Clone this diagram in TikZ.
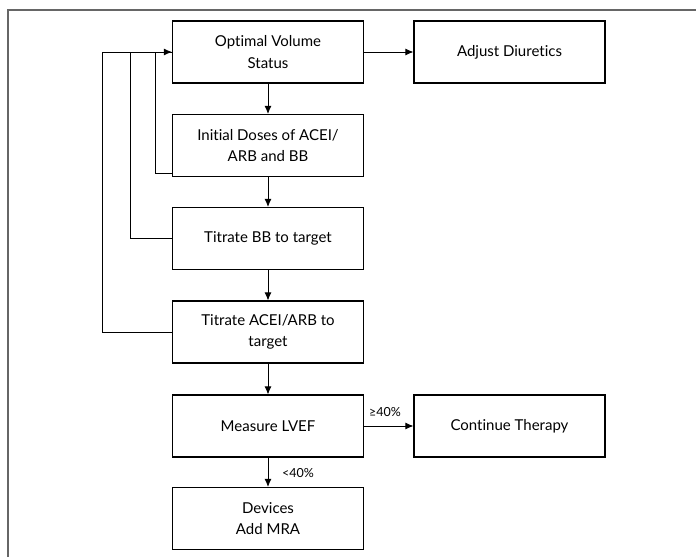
\documentclass[tikz,border=0pt]{standalone}
\usepackage{fontspec}
\setmainfont{Lato}[Ligatures={NoCommon}]
\usetikzlibrary{arrows.meta}
\begin{document}
\begin{tikzpicture}[x=1pt,y=-1pt,
  box/.style={draw, line width=1.1pt, minimum width=191pt, minimum height=62pt, align=center,
    font=\fontsize{15}{21.5}\selectfont, inner sep=0pt},
  arr/.style={-{Latex[length=8pt,width=7pt]}, line width=0.9pt},
  conn/.style={line width=0.9pt},
  lbl/.style={font=\fontsize{12.5}{14}\selectfont, inner sep=0pt}]
\useasboundingbox (0,0) rectangle (696,557);
\draw[line width=2pt, color={rgb,255:red,102;green,102;blue,102}] (8,557) -- (8,10) -- (696,10);
\node[box] (ovs) at (268,52) {Optimal Volume\\Status};
\node[box] (ad) at (509.5,52) {Adjust Diuretics};
\node[box] (ini) at (268,145.5) {Initial Doses of ACEI/\\ARB and BB};
\node[box] (tbb) at (268,238.5) {Titrate BB to target};
\node[box] (tac) at (268,332) {Titrate ACEI/ARB to\\target};
\node[box] (lvef) at (268,426) {Measure LVEF};
\node[box] (ct) at (509.5,426) {Continue Therapy};
\node[box] (dev) at (268,518.5) {Devices\\Add MRA};
\coordinate (fa) at (102,52);
\coordinate (fb) at (130,52);
\coordinate (fc) at (155,52);
\coordinate (inifb) at ([yshift=4pt]ini.south west);
\draw[arr] (ovs) -- (ini);
\draw[arr] (ini) -- (tbb);
\draw[arr] (tbb) -- (tac);
\draw[arr] (tac) -- (lvef);
\draw[arr] (lvef) -- (dev);
\node[lbl, anchor=west] (lt) at (282,473) {<40\%};
\draw[arr] (ovs) -- (ad);
\draw[arr] (lvef) -- (ct);
\node[lbl, anchor=west] (ge) at (369,412) {≥40\%};
\draw[conn] (tac.west) -| (fa) -- (ovs.west);
\draw[conn] (tbb.west) -| (fb);
\draw[conn] (inifb) -| (fc);
\draw[arr] (fa) -- (ovs.west);
\end{tikzpicture}
\end{document}
